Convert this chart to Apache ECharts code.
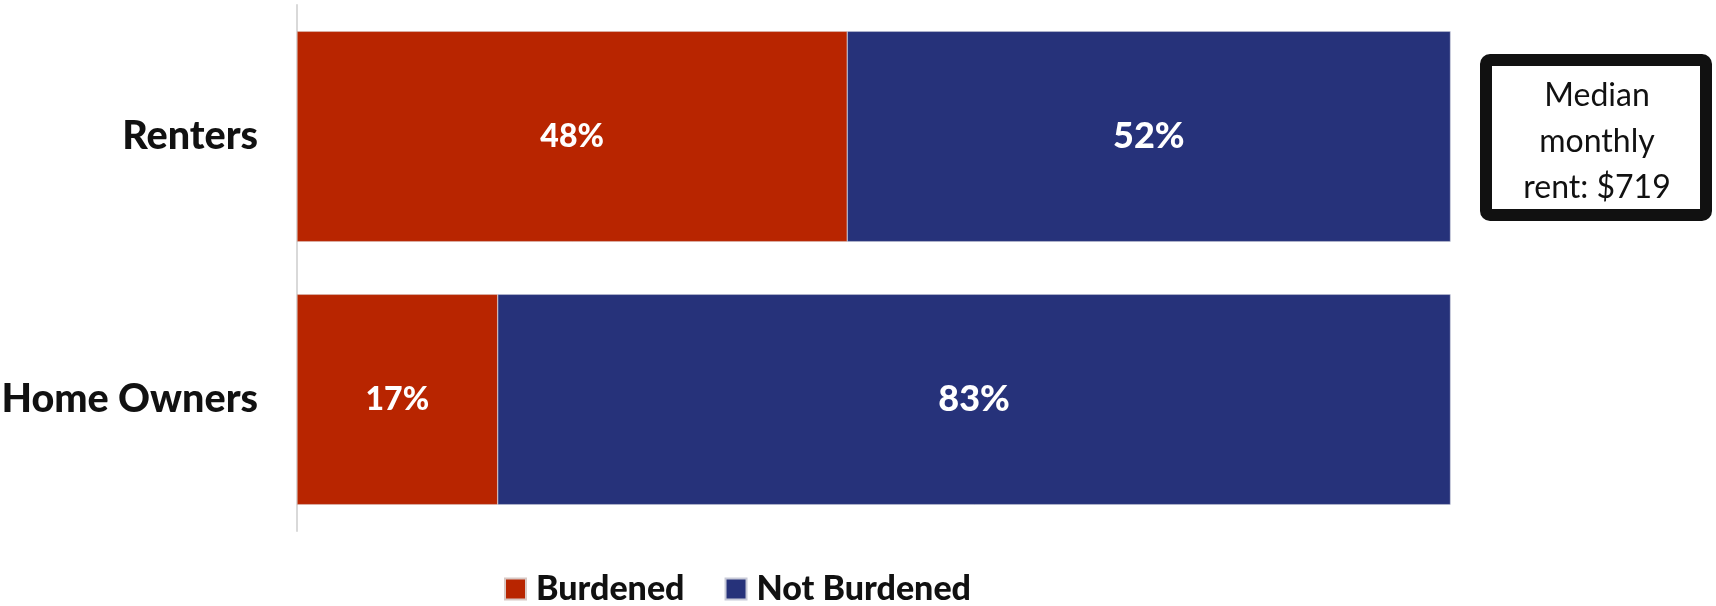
<!DOCTYPE html>
<html><head><meta charset="utf-8">
<script src="https://cdn.jsdelivr.net/npm/echarts@6/dist/echarts.min.js"></script>
<style>html,body{margin:0;padding:0;background:#fff}#c{width:1716px;height:606px}</style>
</head><body><div id="c"></div>
<script>
const categories = ['Renters', 'Home Owners'];
const burdened = [47.7, 17.4];
const notBurdened = [52.3, 82.6];
const seriesNames = ['Burdened', 'Not Burdened'];
const noteText = 'Median\nmonthly\nrent: $719';

const RED = '#B82500', NAVY = '#26327A';
const chart = echarts.init(document.getElementById('c'), null, {renderer: 'canvas'});
const lbl = size => ({show: true, position: 'inside', color: '#fff', fontFamily: 'Lato', fontWeight: 900, fontSize: size, formatter: p => Math.round(p.value) + '%'});
chart.setOption({
  animation: false,
  grid: {left: 297, right: 265.5, top: 5, bottom: 75, containLabel: false, outerBoundsMode: 'none'},
  xAxis: {type: 'value', min: 0, max: 100, show: false},
  yAxis: {type: 'category', data: categories, inverse: true,
    axisLine: {show: true, lineStyle: {color: '#d9d9d9', width: 2}},
    axisTick: {show: false},
    axisLabel: {color: '#111', fontFamily: 'Lato', fontWeight: 900, fontSize: 39.5, margin: 39}},
  legend: {left: 499, top: 567, itemWidth: 21, itemHeight: 21, itemGap: 40, icon: 'rect',
    textStyle: {color: '#111', fontFamily: 'Lato', fontWeight: 900, fontSize: 34, padding: [0, 0, 0, 5]},
    data: seriesNames},
  series: [
    {name: seriesNames[0], type: 'bar', stack: 'a', data: burdened, barWidth: '80%',
     itemStyle: {color: RED, borderColor: '#d8c8c4', borderWidth: 0.5}, label: lbl(32)},
    {name: seriesNames[1], type: 'bar', stack: 'a', data: notBurdened, barWidth: '80%',
     itemStyle: {color: NAVY, borderColor: '#c8cad8', borderWidth: 0.5}, label: lbl(36)}
  ],
  graphic: [
    {type: 'rect', shape: {x: 1486, y: 60, width: 220, height: 155, r: 4},
     style: {fill: '#fff', stroke: '#111', lineWidth: 12}},
    {type: 'text', x: 1597, y: 142,
     style: {text: noteText, fill: '#111', font: '32px Lato', textAlign: 'center', textVerticalAlign: 'middle', lineHeight: 46}}
  ]
});
</script></body></html>
